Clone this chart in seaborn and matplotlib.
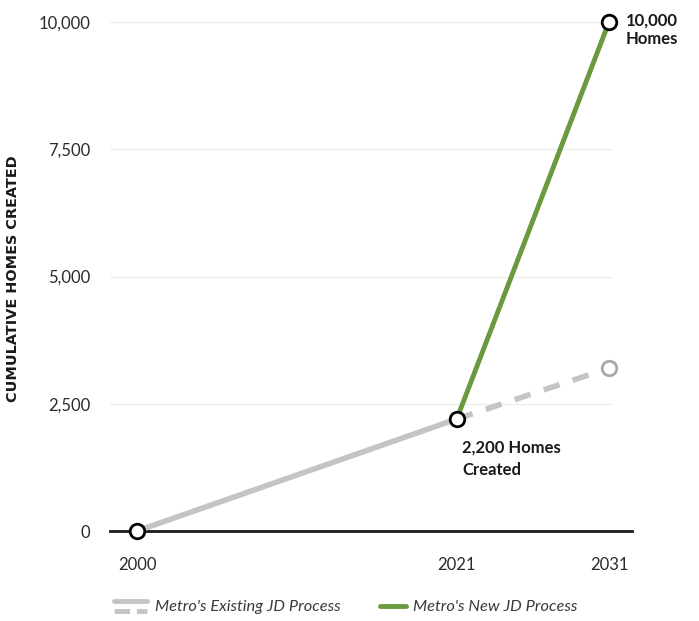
import matplotlib
matplotlib.use("Agg")
import matplotlib.pyplot as plt
import seaborn as sns
import pandas as pd
import numpy as np
from matplotlib.lines import Line2D
from matplotlib.legend_handler import HandlerBase

# ---- data ----
years = [2000, 2021, 2031]
existing_homes = [0, 2200, 3200]
new_homes = [np.nan, 2200, 10000]
series_labels = ["Metro's Existing JD Process", "Metro's New JD Process"]
y_ticks = [0, 2500, 5000, 7500, 10000]
y_tick_labels = ["0", "2,500", "5,000", "7,500", "10,000"]
x_tick_labels = ["2000", "2021", "2031"]
y_label = "CUMULATIVE HOMES CREATED"
note_top = "10,000\nHomes"
note_mid = "2,200 Homes\nCreated"

GRAY = "#c4c4c4"
GREEN = "#6a9a3e"

sns.set_theme(style="white")
plt.rcParams["font.family"] = ["Lato", "DejaVu Sans"]

fig = plt.figure(figsize=(6.99, 6.21), dpi=100)
W, H = 699, 621
ax = fig.add_axes([110 / W, (H - 531) / H, (632 - 110) / W, (531 - 22) / H])

df_hist = pd.DataFrame({"year": years[:2], "homes": existing_homes[:2]})
df_proj = pd.DataFrame({"year": years[1:], "homes": existing_homes[1:]})
df_new = pd.DataFrame({"year": years[1:], "homes": new_homes[1:]})

sns.lineplot(data=df_hist, x="year", y="homes", ax=ax, color=GRAY, lw=4, zorder=2)
sns.lineplot(data=df_proj, x="year", y="homes", ax=ax, color=GRAY, lw=4,
             dashes=False, zorder=2).lines[-1].set_dashes([3, 2.5])
sns.lineplot(data=df_new, x="year", y="homes", ax=ax, color=GREEN, lw=3.5, zorder=3)

# markers
ax.scatter(years[:2], existing_homes[:2], s=110, facecolor="white", edgecolor="black",
           linewidth=2, zorder=5, clip_on=False)
ax.scatter([years[2]], [existing_homes[2]], s=110, facecolor="white", edgecolor="#a8a8a8",
           linewidth=2, zorder=5, clip_on=False)
ax.scatter([years[2]], [new_homes[2]], s=110, facecolor="white", edgecolor="black",
           linewidth=2, zorder=5, clip_on=False)

ax.set_xlim(1998.23, 2032.51)
ax.set_ylim(0, 10000)

for yv in y_ticks[1:]:
    ax.axhline(yv, xmin=0, xmax=0.962, color="#ececec", lw=0.9, zorder=0)

for s in ["top", "right", "left"]:
    ax.spines[s].set_visible(False)
ax.spines["bottom"].set_color("#1a1a1a")
ax.spines["bottom"].set_linewidth(2)
ax.spines["bottom"].set_zorder(1)

ax.set_xticks(years)
ax.set_xticklabels(x_tick_labels, fontsize=12, color="#2b2b2b")
ax.set_yticks(y_ticks)
ax.set_yticklabels(y_tick_labels, fontsize=12, color="#2b2b2b")
ax.tick_params(axis="x", length=0, pad=19)
ax.tick_params(axis="y", length=0, pad=14)
ax.set_xlabel("")
ax.set_ylabel(y_label, fontsize=10.4, fontweight="bold", color="#1a1a1a",
              family=["DejaVu Sans"])
ax.yaxis.set_label_coords(-0.172, 0.495)

ax.annotate(note_top, xy=(years[2], new_homes[2]), xytext=(12, 7), textcoords="offset points",
            fontsize=12, fontweight="bold", color="#1a1a1a", va="top", ha="left",
            annotation_clip=False)
ax.annotate(note_mid, xy=(years[1], existing_homes[1]), xytext=(4, -15), textcoords="offset points",
            fontsize=12, fontweight="bold", color="#1a1a1a", va="top", ha="left",
            linespacing=1.45, annotation_clip=False)


class StackedHandler(HandlerBase):
    def create_artists(self, legend, orig_handle, xdescent, ydescent, width, height, fontsize, trans):
        y1 = height * 0.85 - ydescent
        y2 = height * 0.05 - ydescent
        l1 = Line2D([-xdescent, width - xdescent], [y1, y1], color=GRAY, lw=3.5, transform=trans)
        l2 = Line2D([-xdescent, width - xdescent], [y2, y2], color=GRAY, lw=3.5,
                    dashes=[3.2, 1.4], transform=trans)
        return [l1, l2]


class ShortHandler(HandlerBase):
    def create_artists(self, legend, orig_handle, xdescent, ydescent, width, height, fontsize, trans):
        y = height * 0.45 - ydescent
        l = Line2D([-xdescent + width * 0.2, width - xdescent], [y, y], color=GREEN, lw=3.5,
                   transform=trans)
        return [l]


h_exist = Line2D([], [], color=GRAY)
h_new = Line2D([], [], color=GREEN, lw=3.5)
leg = fig.legend([h_exist, h_new], series_labels, loc="center", bbox_to_anchor=(346 / W, 1 - 607 / H),
                 ncol=2, frameon=False, handler_map={h_exist: StackedHandler(), h_new: ShortHandler()},
                 prop={"style": "italic", "size": 11.8}, handlelength=2.0, columnspacing=2.0,
                 handletextpad=0.45)
for t in leg.get_texts():
    t.set_color("#3a3a3a")

fig.savefig("out.png", dpi=100, facecolor="white")
